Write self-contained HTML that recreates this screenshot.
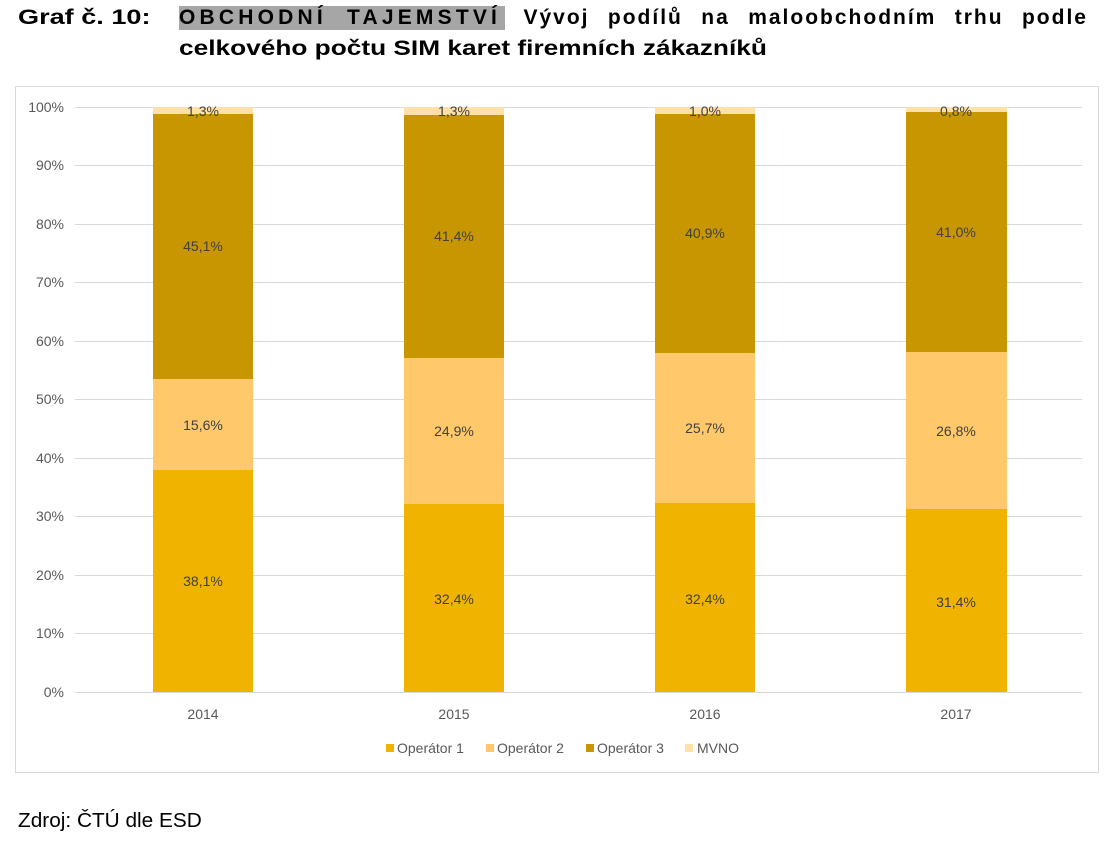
<!DOCTYPE html>
<html><head><meta charset="utf-8"><style>
body{margin:0;width:1119px;height:841px;background:#fff;position:relative;font-family:"Liberation Sans",sans-serif;overflow:hidden}
.t{position:absolute;font-weight:bold;font-size:21px;color:#000;white-space:nowrap;transform-origin:0 0}
</style></head><body>
<div class="t" style="left:18px;top:6px;transform:scaleX(1.29)">Graf č. 10:</div>
<div class="t" style="left:179px;top:6px;width:909px;display:flex;justify-content:space-between"><span style="background:#a6a6a6;padding-right:4px;letter-spacing:4.2px">OBCHODNÍ&nbsp;&nbsp;TAJEMSTVÍ</span><span style="letter-spacing:2px">Vývoj</span><span style="letter-spacing:2px">podílů</span><span style="letter-spacing:2px">na</span><span style="letter-spacing:2px">maloobchodním</span><span style="letter-spacing:2px">trhu</span><span style="letter-spacing:2px">podle</span></div>
<div class="t" style="left:179px;top:37px;transform:scaleX(1.25)">celkového počtu SIM karet firemních zákazníků</div>
<div style="position:absolute;left:18px;top:810px;font-size:20px;transform:scaleX(1.04);transform-origin:0 0">Zdroj: ČTÚ dle ESD</div>
<svg width="1119" height="841" style="position:absolute;left:0;top:0" font-family="Liberation Sans, sans-serif">
<rect x="15.5" y="86.5" width="1083" height="686" fill="none" stroke="#d9d9d9"/>
<g stroke="#d9d9d9" stroke-width="1">
<line x1="75" x2="1082" y1="107.5" y2="107.5"/><line x1="75" x2="1082" y1="165.5" y2="165.5"/><line x1="75" x2="1082" y1="224.5" y2="224.5"/><line x1="75" x2="1082" y1="282.5" y2="282.5"/><line x1="75" x2="1082" y1="341.5" y2="341.5"/><line x1="75" x2="1082" y1="399.5" y2="399.5"/><line x1="75" x2="1082" y1="458.5" y2="458.5"/><line x1="75" x2="1082" y1="516.5" y2="516.5"/><line x1="75" x2="1082" y1="575.5" y2="575.5"/><line x1="75" x2="1082" y1="633.5" y2="633.5"/><line x1="75" x2="1082" y1="692.5" y2="692.5"/>
</g>
<g font-size="14" fill="#595959" text-anchor="end">
<text x="64" y="112">100%</text><text x="64" y="170">90%</text><text x="64" y="229">80%</text><text x="64" y="287">70%</text><text x="64" y="346">60%</text><text x="64" y="404">50%</text><text x="64" y="463">40%</text><text x="64" y="521">30%</text><text x="64" y="580">20%</text><text x="64" y="638">10%</text><text x="64" y="697">0%</text>
</g>
<g>
<rect x="153" y="107" width="100" height="7" fill="#ffe0a8"/><rect x="153" y="114" width="100" height="265" fill="#c89600"/><rect x="153" y="379" width="100" height="91" fill="#ffc96b"/><rect x="153" y="470" width="100" height="222" fill="#f0b400"/>
<rect x="404" y="107" width="100" height="8" fill="#ffe0a8"/><rect x="404" y="115" width="100" height="243" fill="#c89600"/><rect x="404" y="358" width="100" height="146" fill="#ffc96b"/><rect x="404" y="504" width="100" height="188" fill="#f0b400"/>
<rect x="655" y="107" width="100" height="7" fill="#ffe0a8"/><rect x="655" y="114" width="100" height="239" fill="#c89600"/><rect x="655" y="353" width="100" height="150" fill="#ffc96b"/><rect x="655" y="503" width="100" height="189" fill="#f0b400"/>
<rect x="906" y="107" width="101" height="5" fill="#ffe0a8"/><rect x="906" y="112" width="101" height="240" fill="#c89600"/><rect x="906" y="352" width="101" height="157" fill="#ffc96b"/><rect x="906" y="509" width="101" height="183" fill="#f0b400"/>
</g>
<g font-size="14" fill="#404040" text-anchor="middle">
<text x="203" y="116">1,3%</text><text x="203" y="251">45,1%</text><text x="203" y="430">15,6%</text><text x="203" y="586">38,1%</text>
<text x="454" y="116">1,3%</text><text x="454" y="241">41,4%</text><text x="454" y="436">24,9%</text><text x="454" y="604">32,4%</text>
<text x="705" y="116">1,0%</text><text x="705" y="238">40,9%</text><text x="705" y="433">25,7%</text><text x="705" y="604">32,4%</text>
<text x="956" y="116">0,8%</text><text x="956" y="237">41,0%</text><text x="956" y="436">26,8%</text><text x="956" y="607">31,4%</text>
</g>
<g font-size="14" fill="#595959" text-anchor="middle">
<text x="203" y="719">2014</text><text x="454" y="719">2015</text><text x="705" y="719">2016</text><text x="956" y="719">2017</text>
</g>
<g font-size="14" fill="#595959">
<rect x="386" y="744" width="8" height="8" fill="#f0b400"/><text x="397" y="753">Operátor 1</text>
<rect x="486" y="744" width="8" height="8" fill="#ffc96b"/><text x="497" y="753">Operátor 2</text>
<rect x="586" y="744" width="8" height="8" fill="#c89600"/><text x="597" y="753">Operátor 3</text>
<rect x="685" y="744" width="8" height="8" fill="#ffe0a8"/><text x="697" y="753">MVNO</text>
</g>
</svg>
</body></html>
